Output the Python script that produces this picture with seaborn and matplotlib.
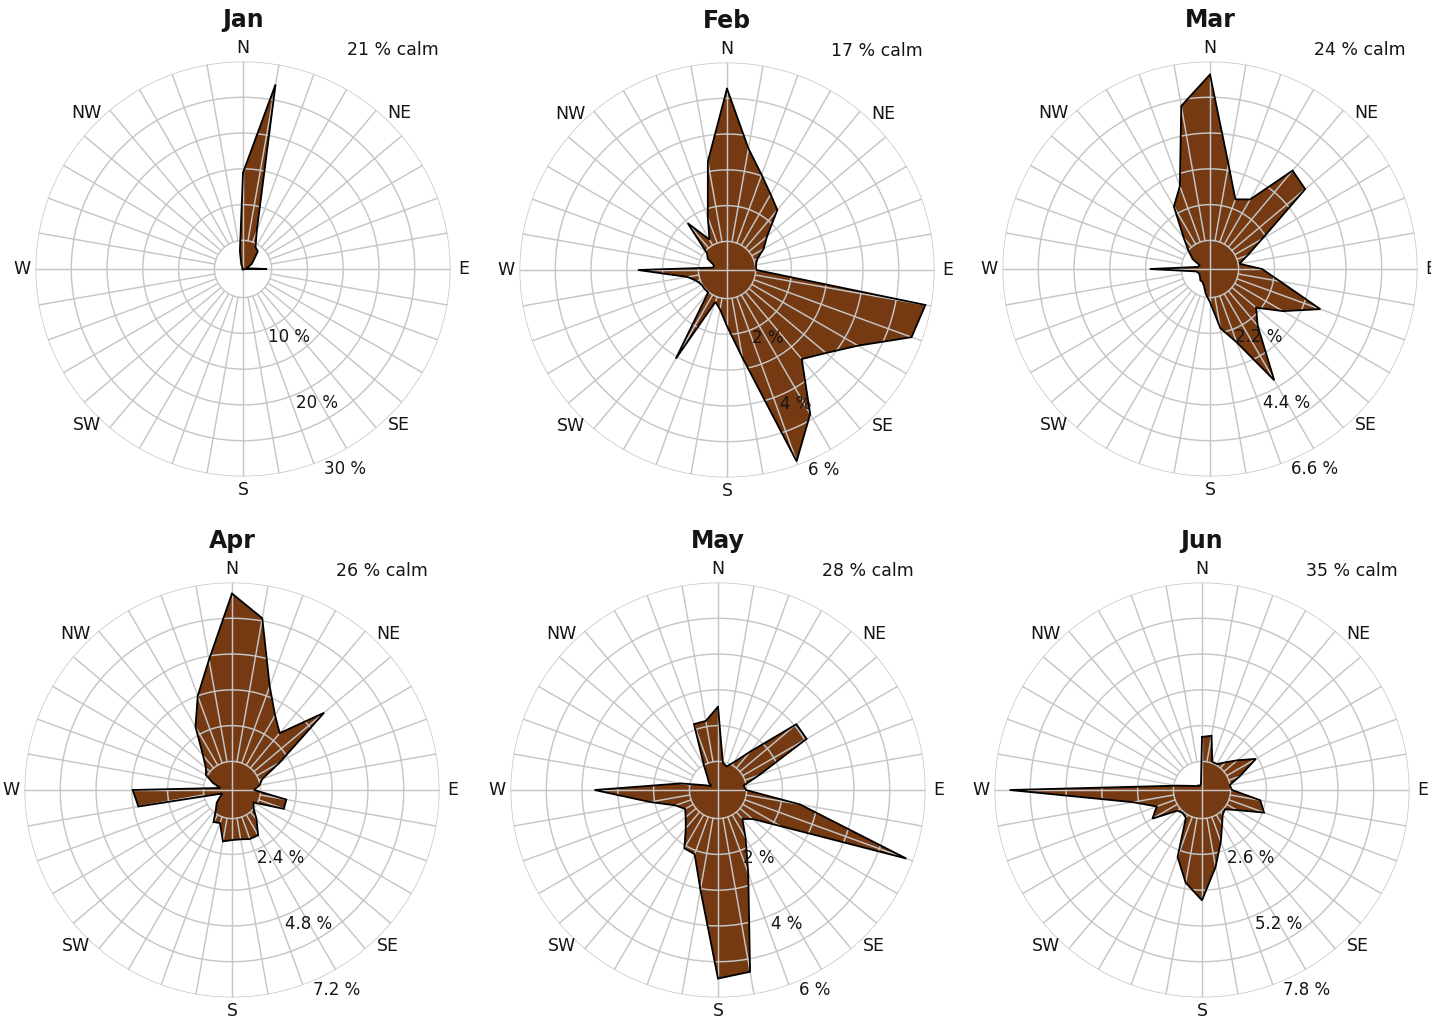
import numpy as np
import pandas as pd
import matplotlib
matplotlib.use("Agg")
import matplotlib.pyplot as plt
import seaborn as sns

# ---------------------------------------------------------------------------
# Monthly wind roses: frequency (%) of wind from each 10-degree sector
# ---------------------------------------------------------------------------
months = ["Jan", "Feb", "Mar", "Apr", "May", "Jun"]
calm_pct = [21, 17, 24, 26, 28, 35]
ring_top = [30, 6, 6.6, 7.2, 6, 7.8]          # value of the outermost ring (%)
bearings = list(range(0, 360, 10))             # sector centre, degrees from N
compass = ["N", "NE", "E", "SE", "S", "SW", "W", "NW"]

freq_jan = [14.45, 27.2, 6.60, 4.50, 4.22, 2.96, 2.40, 1.70, 1.56, 4.36,
            1.10, 1.10, 1.10, 1.10, 1.10, 1.10, 1.10, 1.10, 1.10, 1.10,
            1.10, 1.10, 1.10, 1.10, 1.10, 1.10, 1.10, 1.10, 1.10, 1.10,
            1.10, 1.10, 1.10, 1.10, 1.70, 3.52]
freq_feb = [5.27, 3.65, 3.03, 2.64, 2.39, 1.66, 1.38, 1.10, 1.02, 1.02,
            5.83, 5.69, 4.43, 3.81, 3.45, 4.85, 5.89, 2.69, 1.77, 1.32,
            1.15, 3.06, 1.02, 1.02, 1.02, 1.10, 1.32, 2.69, 0.59, 0.59,
            0.82, 0.93, 1.91, 1.18, 1.77, 3.28]
freq_mar = [6.20, 3.49, 2.50, 2.69, 4.17, 4.04, 2.07, 1.45, 1.14, 1.82,
            2.41, 3.83, 2.81, 2.07, 2.50, 4.17, 2.62, 2.07, 1.24, 0.99,
            0.77, 0.68, 0.68, 0.62, 0.59, 0.59, 0.65, 2.07, 0.59, 0.56,
            0.84, 1.08, 1.48, 2.44, 2.93, 5.31]
freq_apr = [6.83, 6.09, 3.94, 3.13, 2.73, 4.27, 2.09, 1.32, 1.18, 0.98,
            2.09, 2.09, 1.08, 1.18, 1.52, 1.99, 1.99, 1.92, 1.92, 1.99,
            1.42, 1.48, 1.08, 0.91, 0.71, 0.58, 3.43, 3.57, 0.64, 0.91,
            1.25, 1.38, 1.75, 2.69, 3.60, 4.68]
freq_may = [2.53, 0.98, 0.90, 1.10, 1.60, 3.06, 3.06, 1.43, 0.93, 0.98,
            2.53, 5.80, 2.22, 1.46, 1.26, 1.74, 2.67, 5.36, 5.47, 3.03,
            2.11, 2.08, 1.60, 1.38, 1.26, 1.46, 2.13, 3.65, 1.26, 0.59,
            0.42, 0.54, 0.65, 0.98, 2.16, 2.16]
freq_jun = [2.19, 2.26, 1.35, 1.35, 1.57, 1.94, 2.52, 1.72, 1.28, 1.35,
            2.41, 2.66, 1.72, 1.35, 1.43, 1.72, 2.26, 3.10, 4.27, 3.68,
            2.85, 1.43, 1.35, 1.43, 2.34, 2.01, 2.81, 7.25, 1.17, 0.70,
            0.55, 0.48, 0.48, 0.44, 0.44, 0.48]

series = [freq_jan, freq_feb, freq_mar, freq_apr, freq_may, freq_jun]
df = pd.DataFrame({
    "month": np.repeat(months, len(bearings)),
    "bearing": bearings * len(months),
    "freq": np.concatenate(series),
})

BROWN = "#763A12"
GRID = "#c6c6c6"
TEXT = "#151515"

sns.set_theme(style="white")
plt.rcParams["font.family"] = ["DejaVu Sans"]


def draw_rose(data, color=None, **kws):
    ax = plt.gca()
    th = np.deg2rad(data["bearing"].to_numpy(dtype=float))
    r = data["freq"].to_numpy(dtype=float)
    ax.fill(th, r, facecolor=BROWN, edgecolor="none", zorder=2)
    ax.plot(np.append(th, th[0]), np.append(r, r[0]),
            color="black", lw=1.3, zorder=4, solid_joinstyle="miter")


g = sns.FacetGrid(df, col="month", col_wrap=3, col_order=months,
                  subplot_kws=dict(projection="polar"),
                  sharex=False, sharey=False, despine=False, height=4)
g.map_dataframe(draw_rose)

fig = g.figure
W, H = 1431, 1018
fig.set_size_inches(W / 100, H / 100)
fig.set_facecolor("white")

centres = [(243, 269), (727, 270), (1210, 269),
           (232, 790), (718, 790), (1202, 790)]
R = 207.5

circ = np.linspace(0, 2 * np.pi, 721)
for ax, name, calm, top, (cx, cy) in zip(g.axes.flat, months, calm_pct,
                                         ring_top, centres):
    step = top / 6.0
    rmin = 0.2 * step          # the radial scale starts just below zero ring

    ax.set_title("")
    ax.set_theta_zero_location("N")
    ax.set_theta_direction(-1)
    ax.set_ylim(rmin, top)
    ax.grid(False)
    ax.set_xticks([])
    ax.set_yticks([])
    ax.set_xlabel("")
    ax.set_ylabel("")
    ax.spines["polar"].set_visible(False)
    ax.set_facecolor("white")

    # concentric rings
    for k in range(1, 7):
        ax.plot(circ, np.full_like(circ, step * k), color=GRID, lw=1.05,
                zorder=3)
    # spokes every 10 degrees; the four cardinal axes run through the centre
    for b in bearings:
        t = np.deg2rad(b)
        r0 = rmin if b % 90 == 0 else step
        ax.plot([t, t], [r0, top], color=GRID, lw=1.05, zorder=3)

    # compass point names
    r_lab = rmin + 1.065 * (top - rmin)
    for i, lab in enumerate(compass):
        ax.text(np.deg2rad(45 * i), r_lab, lab, ha="center",
                va="center", fontsize=12.5, color=TEXT, clip_on=False,
                zorder=6)

    # ring values
    for k in (2, 4, 6):
        val = round(step * k, 1)
        ax.text(np.deg2rad(157), step * k, f"{val:g} %", ha="left", va="top",
                fontsize=12, color=TEXT, clip_on=False, zorder=6)

    ax.text(0.5, 1.101, name, transform=ax.transAxes, ha="center",
            va="center", fontsize=17, fontweight="bold", color=TEXT)
    ax.text(0.862, 1.027, f"{calm} % calm", transform=ax.transAxes,
            ha="center", va="center", fontsize=12.5, color=TEXT)

    ax.set_position([(cx - R) / W, (H - (cy + R)) / H, 2 * R / W, 2 * R / H])

fig.savefig("out.png", dpi=100, facecolor="white")
